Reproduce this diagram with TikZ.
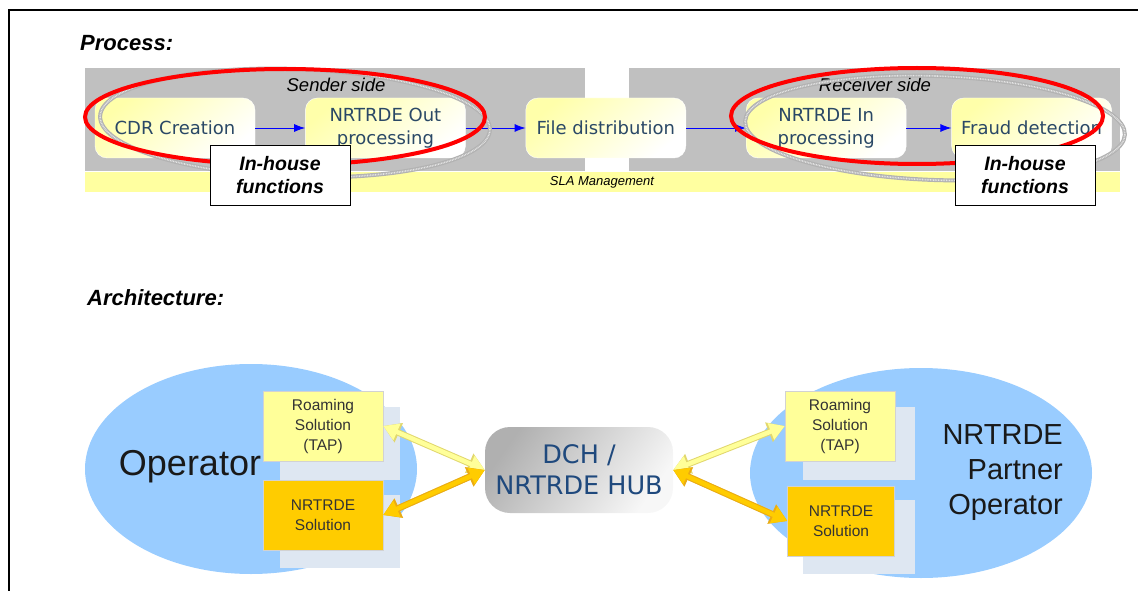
\documentclass[tikz,border=0pt]{standalone}
\usepackage{fontspec}
\setmainfont{Liberation Sans}
\newfontfamily\verdana{DejaVu Sans}
\usetikzlibrary{arrows.meta, positioning}
\definecolor{panelgray}{RGB}{192,192,192}
\definecolor{slayellow}{RGB}{255,255,160}
\definecolor{stepyellow}{RGB}{255,255,170}
\definecolor{steptext}{RGB}{42,72,102}
\definecolor{opblue}{RGB}{153,204,255}
\definecolor{backblue}{RGB}{222,231,242}
\definecolor{tapyellow}{RGB}{255,255,153}
\definecolor{tapedge}{RGB}{225,215,110}
\definecolor{solorange}{RGB}{255,204,0}
\definecolor{soledge}{RGB}{235,170,20}
\definecolor{hubtext}{RGB}{31,73,125}
\tikzset{
  heading/.style = {anchor=west, inner sep=0pt,
    font=\fontsize{22}{24}\selectfont\bfseries\itshape},
  sidetext/.style = {inner sep=0pt, font=\fontsize{18.5}{22}\selectfont\itshape},
  procnode/.style = {align=center, rounded corners=12pt, draw=white,
    top color=stepyellow, middle color=stepyellow, bottom color=white,
    shading angle=40, text=steptext, inner sep=1pt,
    minimum width=160pt, minimum height=60pt,
    font=\verdana\fontsize{18}{23}\selectfont},
  flow/.style = {-{Latex[length=11pt,width=8pt]}, blue, line width=0.9pt},
  rope/.style = {draw=gray!60, line width=4pt,
    postaction={draw=gray!20, line width=1.6pt, dash pattern=on 0.8pt off 0.8pt}},
  redring/.style = {draw=red, line width=4pt},
  housebox/.style = {draw=black, fill=white, align=center, line width=0.8pt,
    minimum width=140pt, minimum height=60pt, inner sep=2pt,
    font=\fontsize{19.5}{23}\selectfont\bfseries\itshape},
  tapbox/.style = {fill=tapyellow, draw=gray!35, align=center, text=black!80,
    minimum width=120pt, minimum height=70pt, inner sep=1pt,
    font=\fontsize{15.5}{20}\selectfont},
  solbox/.style = {tapbox, fill=solorange},
  hubnode/.style = {rounded corners=25pt, top color=gray!62, bottom color=gray!6,
    shading angle=55, align=center, text=hubtext,
    minimum width=188pt, minimum height=86pt,
    font=\verdana\fontsize{25.5}{31}\selectfont},
  optext/.style = {inner sep=0pt, text=black!90},
  lightlink/.style = {draw=tapyellow, line width=4.5pt,
    arrows={Triangle[length=15pt,width=17pt]-Triangle[length=15pt,width=17pt]},
    preaction={draw=tapedge, line width=6.5pt,
      arrows={Triangle[length=17pt,width=20pt]-Triangle[length=17pt,width=20pt]}}},
  orangelink/.style = {lightlink, draw=solorange,
    preaction={draw=soledge, line width=6.5pt,
      arrows={Triangle[length=17pt,width=20pt]-Triangle[length=17pt,width=20pt]}}}
}

\begin{document}
\begin{tikzpicture}[x=1pt, y=-1pt]
\useasboundingbox (0,0) rectangle (1138,591);
\draw[line width=2pt] (9,591) -- (9,10) -- (1138,10);

% process chain
\node[heading] (process) at (80,43) {Process:};
\fill[panelgray] (85,68) rectangle (585,171);
\fill[panelgray] (629,68) rectangle (1120,171);
\fill[slayellow] (85,172) rectangle (1120,192);
\node[inner sep=0pt, font=\fontsize{13}{15}\selectfont\itshape] (sla) at (602,182) {SLA Management};
\node[sidetext] (sender) at (336,85) {Sender side};
\node[sidetext] (receiver) at (875,85) {Receiver side};

\node[procnode] (cdr) at (175,128) {CDR Creation};
\node[procnode, right=50pt of cdr] (outproc) {NRTRDE Out\\processing};
\node[procnode, right=60pt of outproc] (filedist) {File distribution};
\node[procnode, right=60pt of filedist] (inproc) {NRTRDE In\\processing};
\node[procnode, right=45pt of inproc] (fraud) {Fraud detection};
\foreach \a/\b in {cdr/outproc, outproc/filedist, filedist/inproc, inproc/fraud}
  \draw[flow] (\a) -- (\b);

% rings round the in-house steps
\draw[rope, rotate around={-2:(295,123)}] (295,123) ellipse [x radius=195pt, y radius=54pt];
\draw[redring] (285,117) ellipse [x radius=200pt, y radius=48pt];
\draw[rope, rotate around={-2:(935,128)}] (935,128) ellipse [x radius=190pt, y radius=52pt];
\draw[redring] (917,116) ellipse [x radius=186pt, y radius=48pt];
\node[housebox] (houseL) at (280,175) {In-house\\functions};
\node[housebox] (houseR) at (1025,175) {In-house\\functions};

% architecture
\node[heading] (arch) at (87,298) {Architecture:};
\fill[opblue] (251,469) ellipse [x radius=166pt, y radius=105pt];
\fill[opblue] (921,473) ellipse [x radius=171pt, y radius=105pt];
\fill[backblue] (280,407) rectangle (400,480);
\fill[backblue] (280,495) rectangle (400,568);
\fill[backblue] (803,407) rectangle (915,480);
\fill[backblue] (803,500) rectangle (915,574);

\node[tapbox] (roamL) at (323,426) {Roaming\\Solution\\(TAP)};
\node[solbox] (solL) at (323,515) {NRTRDE\\Solution};
\node[tapbox, minimum width=110pt] (roamR) at (840,426) {Roaming\\Solution\\(TAP)};
\node[solbox, minimum width=107pt] (solR) at (841,521) {NRTRDE\\Solution};
\node[hubnode] (hub) at (579,470) {DCH /\\NRTRDE HUB};

\node[optext, font=\fontsize{36}{40}\selectfont] (opL) at (190,467) {Operator};
\node[optext, align=right, anchor=east, font=\fontsize{29}{35}\selectfont] (opR) at (1063,473) {NRTRDE\\Partner\\Operator};

\draw[lightlink] (roamL.east) -- (hub.west);
\draw[orangelink] (solL.east) -- (hub.west);
\draw[lightlink] (hub.east) -- (roamR.west);
\draw[orangelink] (hub.east) -- (solR.west);
\end{tikzpicture}
\end{document}
